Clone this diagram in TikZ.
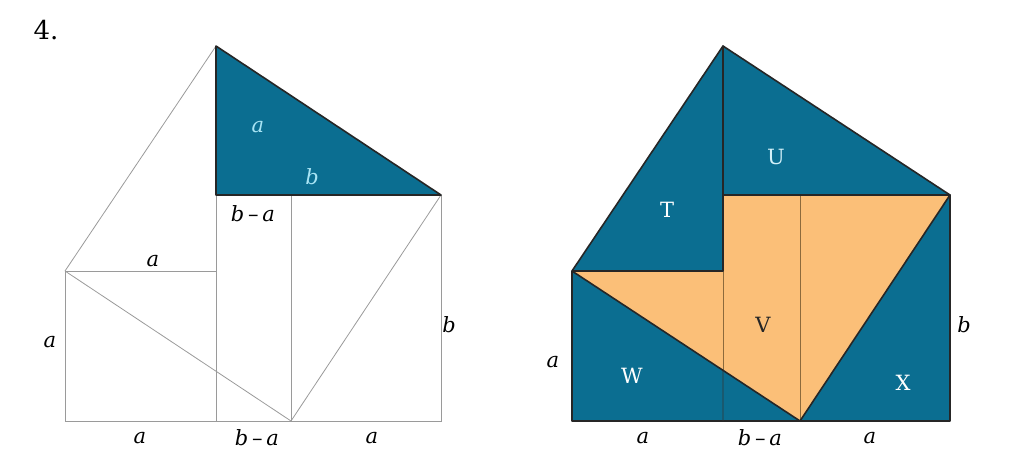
\documentclass[tikz,border=0pt]{standalone}
\usepackage{amsmath, amssymb}
\usepackage{fontspec}
\setmainfont{DejaVu Serif}
\usepackage{xcolor}
\usepackage{tikz}
\usetikzlibrary{calc, positioning}

\definecolor{tealblue}{HTML}{0B6E91}
\definecolor{peach}{HTML}{FBBF78}
\definecolor{peachline}{HTML}{8C6A3C}
\definecolor{paleblue}{HTML}{A8E4F4}
\definecolor{thingray}{HTML}{9A9A9A}
\newcommand{\bma}{\textit{b}\kern0.18em–\kern0.18em\textit{a}}

\begin{document}
\begin{tikzpicture}[x=1pt, y=-1pt,
    thinline/.style={draw=thingray, line width=0.8pt},
    piece/.style={fill=tealblue, draw=black!85, line width=1.6pt, line join=round},
    lbl/.style={font=\fontsize{21}{24}\selectfont, inner sep=0pt}]
    \useasboundingbox (0,0) rectangle (1023,456);
    \node[lbl, font=\fontsize{26}{30}\selectfont] (num) at (46,30) {4.};
    % left figure
    \coordinate (Lbl) at (65,421);
    \coordinate (Lml) at (65,271);
    \coordinate (Ltop) at (216,46);
    \coordinate (Lmid) at (216,195);
    \coordinate (Lma) at (216,271);
    \coordinate (Lf1) at (216,421);
    \coordinate (Lc1) at (291,195);
    \coordinate (Lf2) at (291,421);
    \coordinate (Lrt) at (441,195);
    \coordinate (Lbr) at (441,421);
    \draw[thinline] (Lml) -- (Ltop);
    \draw[thinline] (Lml) -- (Lma);
    \draw[thinline] (Lml) -- (Lf2);
    \draw[thinline] (Lmid) -- (Lf1);
    \draw[thinline] (Lc1) -- (Lf2);
    \draw[thinline] (Lrt) -- (Lf2);
    \draw[thinline] (Lrt) -- (Lbr) -- (Lbl) -- (Lml);
    \draw[piece] (Ltop) -- (Lrt) -- (Lmid) -- cycle;
    \node[lbl, text=paleblue] (tria) at (258,127) {\textit{a}};
    \node[lbl, text=paleblue] (trib) at (312,177) {\textit{b}};
    \node[lbl] (Lba) at (253,214) {\bma};
    \node[lbl] (Lta) at (153,261) {\textit{a}};
    \node[lbl] (Lsa) at (50,342) {\textit{a}};
    \node[lbl] (Lb) at (449,325) {\textit{b}};
    \node[lbl] (Lxa) at (140,438) {\textit{a}};
    \node[lbl] (Lxba) at (257,438) {\bma};
    \node[lbl] (Lxc) at (372,438) {\textit{a}};
    % right figure
    \coordinate (Rbl) at (572,421);
    \coordinate (Rml) at (572,271);
    \coordinate (Rtop) at (723,46);
    \coordinate (Rmid) at (723,195);
    \coordinate (Rma) at (723,271);
    \coordinate (Rf1) at (723,421);
    \coordinate (Rc1) at (800,195);
    \coordinate (Rf2) at (800,421);
    \coordinate (Rrt) at (950,195);
    \coordinate (Rbr) at (950,421);
    \fill[peach] (Rmid) -- (Rrt) -- (Rf2) -- (Rml) -- (Rma) -- cycle;
    \draw[peachline, line width=1pt] (Rc1) -- (Rf2);
    \draw[peachline, line width=1pt] (Rma) -- (Rf1);
    \draw[piece] (Rml) -- (Rf2) -- (Rbl) -- cycle;
    \draw[black!80, line width=0.9pt] ($(Rml)!0.6623!(Rf2)$) -- (Rf1);
    \draw[piece] (Rrt) -- (Rbr) -- (Rf2) -- cycle;
    \draw[piece] (Rml) -- (Rtop) -- (Rma) -- cycle;
    \draw[piece] (Rtop) -- (Rrt) -- (Rmid) -- cycle;
    \node[lbl, text=white] (T) at (667,210) {T};
    \node[lbl, text=paleblue!50!white] (U) at (776,157) {U};
    \node[lbl, text=black!85] (V) at (763,325) {V};
    \node[lbl, text=white] (W) at (632,376) {W};
    \node[lbl, text=white] (X) at (903,383) {X};
    \node[lbl] (Rsa) at (553,362) {\textit{a}};
    \node[lbl] (Rb) at (964,325) {\textit{b}};
    \node[lbl] (Rxa) at (643,438) {\textit{a}};
    \node[lbl] (Rxba) at (760,438) {\bma};
    \node[lbl] (Rxc) at (870,438) {\textit{a}};
\end{tikzpicture}
\end{document}
